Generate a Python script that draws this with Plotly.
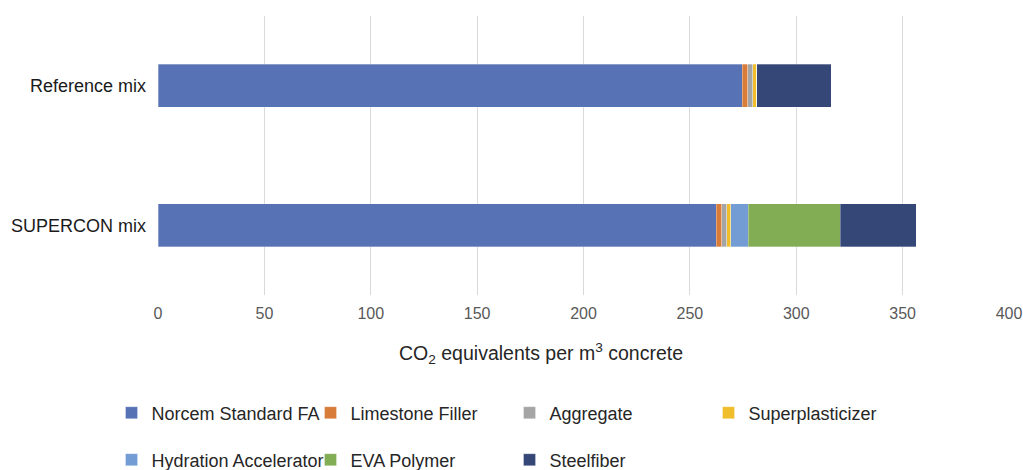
import plotly.graph_objects as go

# Cradle-to-gate CO2 contributions per m3 of concrete
mixes = ["Reference mix", "SUPERCON mix"]
components = [
    "Norcem Standard FA",
    "Limestone Filler",
    "Aggregate",
    "Superplasticizer",
    "Hydration Accelerator",
    "EVA Polymer",
    "Steelfiber",
]
norcem_fa = [274.5, 262.3]
limestone_filler = [2.7, 2.7]
aggregate = [2.3, 2.3]
superplasticizer = [2.0, 2.0]
hydration_accelerator = [0.0, 8.1]
eva_polymer = [0.0, 43.3]
steelfiber = [35.0, 35.7]

series = [norcem_fa, limestone_filler, aggregate, superplasticizer,
          hydration_accelerator, eva_polymer, steelfiber]
colors = ["#5873B5", "#D87C3A", "#A5A5A5", "#F0BE2A", "#729CD3", "#82AD55", "#344776"]
# first row of legend entries vs. second row
legend_ids = ["legend", "legend", "legend", "legend", "legend2", "legend2", "legend2"]

FONT = "Liberation Sans, Arial, sans-serif"

fig = go.Figure()
for name, vals, col, lg in zip(components, series, colors, legend_ids):
    fig.add_trace(go.Bar(
        y=mixes, x=vals, name=name, orientation="h",
        marker=dict(color=col, line=dict(color="rgba(255,255,255,0.6)", width=0.5)),
        legend=lg,
    ))

W, H = 1023, 470
ml, mr, mt, mb = 157.5, 14, 16, 175
plot_w = W - ml - mr
plot_h = H - mt - mb


def px_x(px):
    return (px - ml) / plot_w


def px_y(py):
    return (H - mb - py) / plot_h


legend_common = dict(
    orientation="h", xanchor="left", yanchor="middle",
    font=dict(family=FONT, size=18, color="#262626"),
    entrywidth=154, entrywidthmode="pixels", itemwidth=30,
    bgcolor="rgba(0,0,0,0)", traceorder="normal",
)

fig.update_layout(
    width=W, height=H,
    margin=dict(l=ml, r=mr, t=mt, b=mb, autoexpand=False),
    barmode="stack", bargap=0.69,
    plot_bgcolor="white", paper_bgcolor="white",
    font=dict(family=FONT),
    xaxis=dict(
        range=[0, 400], dtick=50, showgrid=True, gridcolor="#D9D9D9", gridwidth=1,
        zeroline=False, showline=False, ticks="",
        tickfont=dict(size=16, color="#595959"), ticklabelstandoff=7,
    ),
    yaxis=dict(
        categoryorder="array", categoryarray=mixes, autorange="reversed",
        showgrid=False, zeroline=False, showline=False, ticks="",
        tickfont=dict(size=18, color="#1a1a1a"), ticklabelstandoff=11,
    ),
    legend=dict(**legend_common, x=px_x(111), y=px_y(413)),
    legend2=dict(**legend_common, x=px_x(111), y=px_y(460)),
    showlegend=True,
)

fig.add_annotation(
    text="CO<sub>2</sub> equivalents per m<sup>3</sup> concrete",
    xref="paper", yref="paper", x=px_x(541), y=px_y(353),
    xanchor="center", yanchor="middle", showarrow=False,
    font=dict(family=FONT, size=19.5, color="#262626"),
)

fig.write_html("out.html")
